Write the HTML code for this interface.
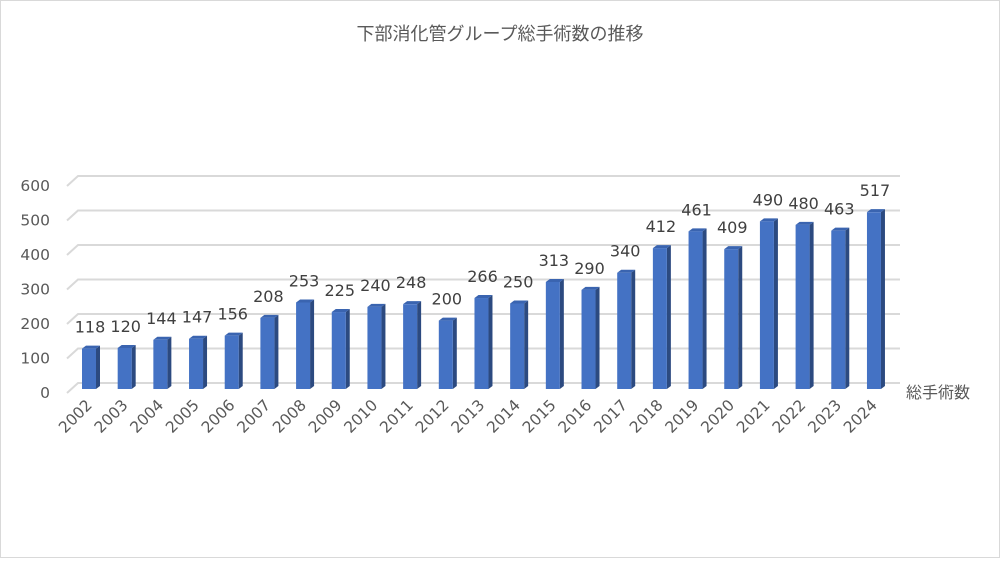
<!DOCTYPE html>
<html><head><meta charset="utf-8"><style>
body{margin:0;background:#fff}
svg text{font-family:"DejaVu Sans","Noto Sans CJK JP",sans-serif;fill:#595959}
</style></head><body>
<svg id="chart" width="1000" height="558" viewBox="0 0 1000 558" xmlns="http://www.w3.org/2000/svg">
<rect x="0.5" y="0.5" width="999" height="557" fill="#fff" stroke="#d9d9d9"/>
<text x="500" y="40" text-anchor="middle" font-size="18" style="font-family:'Noto Sans CJK JP',sans-serif">下部消化管グループ総手術数の推移</text>
<g id="grid"></g><g id="bars"></g><g id="labels"></g>
<text x="906" y="398" font-size="16" style="font-family:'Noto Sans CJK JP',sans-serif">総手術数</text>
</svg>
<script>
const categories=["2002","2003","2004","2005","2006","2007","2008","2009","2010","2011","2012","2013","2014","2015","2016","2017","2018","2019","2020","2021","2022","2023","2024"];
const values=[118,120,144,147,156,208,253,225,240,248,200,266,250,313,290,340,412,461,409,490,480,463,517];
const yTicks=[0,100,200,300,400,500,600];
const NS="http://www.w3.org/2000/svg";
function mk(t,a,p){const e=document.createElementNS(NS,t);for(const k in a)e.setAttribute(k,a[k]);p.appendChild(e);return e;}
const yFront=v=>389-v*0.342, yBack=v=>383-v*0.345;
const xC=i=>89+i*35.68;
const grid=document.getElementById('grid'),bars=document.getElementById('bars'),labels=document.getElementById('labels');
yTicks.forEach(v=>{
 const g=mk('g',{},grid);
 
 
 mk('polyline',{points:`67,${yBack(v)+10} 78,${yBack(v)} 900,${yBack(v)}`,fill:'none',stroke:'#d9d9d9','stroke-width':2},g);
 const t=mk('text',{x:50,y:yBack(v)+15,'text-anchor':'end','font-size':15.5},labels);
 
 
 t.textContent=v;
});
categories.forEach((c,i)=>{
 const v=values[i],x0=xC(i)-7,x1=xC(i)+7,yt=yFront(v),yb=389,d=4,u=3;
 const g=mk('g',{},bars);
 
 
 mk('polygon',{points:`${x1},${yt} ${x1+d},${yt-u} ${x1+d},${yb-u} ${x1},${yb}`,fill:'#2c4a80'},g);
 mk('polygon',{points:`${x0},${yt} ${x0+d},${yt-u} ${x1+d},${yt-u} ${x1},${yt}`,fill:'#3a64b0'},g);
 mk('rect',{x:x0,y:yt,width:14,height:yb-yt,fill:'#4472c4'},g);
 const t=mk('text',{x:xC(i)+1,y:yt-16,'text-anchor':'middle','font-size':16,style:'fill:#404040'},labels);
 
 
 t.textContent=v;
 const cx=xC(i)+4,cy=406;
 const l=mk('text',{x:cx,y:cy,'text-anchor':'end','font-size':15.5,transform:`rotate(-45 ${cx} ${cy})`},labels);
 
 
 l.textContent=c;
});
</script>
</body></html>
